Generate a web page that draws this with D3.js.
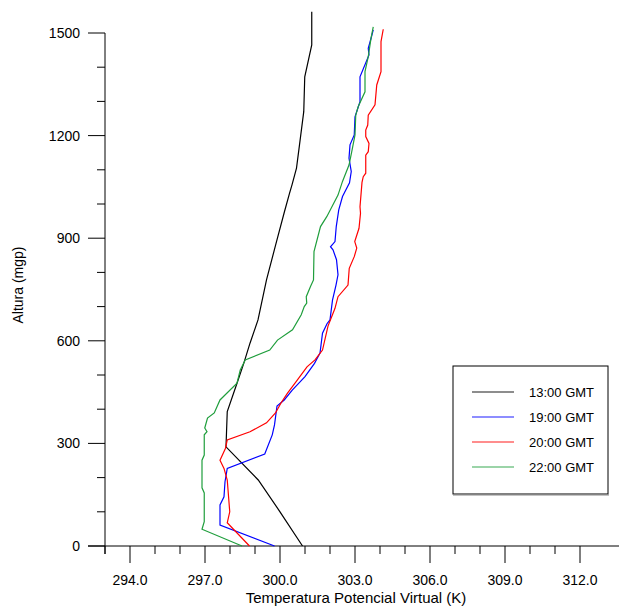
<!DOCTYPE html>
<html>
<head>
<meta charset="utf-8">
<script src="https://d3js.org/d3.v7.min.js"></script>
<style>
  body { margin: 0; background: #fff; }
  text { font-family: "Liberation Sans", Arial, sans-serif; }
</style>
</head>
<body>
<div id="chart"></div>
<script>
var width = 619;
var height = 606;

// [altura (mgp), temperatura potencial virtual (K)]
var s13 = [[0,300.9],[100,300.0],[193,299.13],[290,297.84],[393,297.89],[476,298.28],[534,298.55],
  [593,298.8],[661,299.12],[778,299.46],[890,299.86],[978,300.18],[1031,300.38],[1056,300.48],
  [1105,300.66],[1173,300.78],[1270,300.95],[1372,300.99],[1465,301.27],[1562,301.27]];

var s19 = [[0,299.78],[61,297.6],[120,297.6],[144,297.76],[188,297.8],[227,297.89],[269,299.39],
  [325,299.69],[354,299.78],[409,299.88],[427,300.17],[456,300.49],[495,301.0],[534,301.38],
  [564,301.6],[622,301.7],[650,301.88],[661,302.0],[719,302.1],[763,302.24],[793,302.32],
  [837,302.26],[866,302.12],[875,302.02],[890,302.2],[934,302.25],[983,302.35],[1022,302.5],
  [1062,302.78],[1095,302.85],[1134,302.76],[1173,302.8],[1202,302.97],[1255,303.0],[1299,303.2],
  [1372,303.2],[1436,303.56],[1455,303.53],[1484,303.64],[1509,303.73]];

var s20 = [[0,298.78],[68,297.89],[100,297.99],[193,297.89],[227,297.76],[251,297.6],[286,297.82],
  [310,297.89],[334,298.8],[360,299.46],[389,299.82],[418,300.04],[447,300.3],[485,300.69],
  [524,301.08],[544,301.4],[573,301.7],[643,301.92],[695,302.2],[729,302.32],[763,302.72],
  [812,302.77],[846,302.97],[871,303.07],[890,302.99],[929,303.16],[973,303.22],[992,303.2],
  [1063,303.28],[1080,303.33],[1090,303.43],[1143,303.43],[1153,303.53],[1177,303.56],[1197,303.43],
  [1216,303.43],[1231,303.51],[1260,303.53],[1290,303.8],[1348,303.87],[1387,304.04],[1475,304.04],
  [1511,304.13]];

var s22 = [[0,298.48],[49,296.88],[71,296.97],[155,296.97],[170,296.88],[251,296.88],[266,296.97],
  [325,296.97],[334,297.08],[345,296.99],[374,297.1],[389,297.37],[427,297.6],[476,298.28],
  [515,298.41],[544,298.61],[573,299.59],[602,299.9],[632,300.5],[676,300.85],[700,300.97],
  [710,301.07],[729,301.05],[759,301.22],[778,301.34],[861,301.36],[934,301.62],[963,301.87],
  [1026,302.32],[1066,302.5],[1114,302.76],[1153,302.87],[1202,303.0],[1260,303.03],[1285,303.13],
  [1328,303.4],[1387,303.4],[1431,303.53],[1484,303.64],[1518,303.73]];

var series = [
  {name: "13:00 GMT", color: "#000000", values: s13},
  {name: "19:00 GMT", color: "#0000ff", values: s19},
  {name: "20:00 GMT", color: "#ff0000", values: s20},
  {name: "22:00 GMT", color: "#1f9e3c", values: s22}
];

var xTicks = [294, 297, 300, 303, 306, 309, 312];
var yTicks = [0, 300, 600, 900, 1200, 1500];

var svg = d3.select("#chart").append("svg")
  .attr("width", width)
  .attr("height", height);

var x = d3.scaleLinear().domain([293, 313]).range([105, 605]);
var y = d3.scaleLinear().domain([0, 1500]).range([546, 33]);

// eixo x: menores a cada 1 K, maiores a cada 3 K
var xAxis = svg.append("g").attr("transform", "translate(0," + y(0) + ")");
xAxis.append("line")
  .attr("x1", 88).attr("x2", width)
  .attr("stroke", "#000").attr("stroke-width", 1);
xAxis.selectAll(".xt")
  .data(d3.range(293, 313))
  .enter().append("line")
    .attr("x1", function(d) { return x(d); })
    .attr("x2", function(d) { return x(d); })
    .attr("y1", 0)
    .attr("y2", function(d) { return xTicks.indexOf(d) >= 0 ? 17 : 8; })
    .attr("stroke", "#000");
xAxis.selectAll(".xl")
  .data(xTicks)
  .enter().append("text")
    .attr("x", function(d) { return x(d); })
    .attr("y", 39)
    .attr("text-anchor", "middle")
    .attr("font-size", 14)
    .text(function(d) { return d.toFixed(1); });
svg.append("text")
  .attr("x", 356).attr("y", 603)
  .attr("text-anchor", "middle")
  .attr("font-size", 15)
  .text("Temperatura Potencial Virtual (K)");

// eixo y
var yAxis = svg.append("g").attr("transform", "translate(" + x(293) + ",0)");
yAxis.append("line")
  .attr("y1", y(1500)).attr("y2", y(0) + 8)
  .attr("stroke", "#000");
yAxis.selectAll(".yt")
  .data(d3.range(0, 1501, 100))
  .enter().append("line")
    .attr("y1", function(d) { return y(d); })
    .attr("y2", function(d) { return y(d); })
    .attr("x1", function(d) { return d % 300 === 0 ? -17 : -8; })
    .attr("x2", 0)
    .attr("stroke", "#000");
yAxis.selectAll(".yl")
  .data(yTicks)
  .enter().append("text")
    .attr("x", -25)
    .attr("y", function(d) { return y(d) + 5; })
    .attr("text-anchor", "end")
    .attr("font-size", 14)
    .text(function(d) { return d; });
svg.append("text")
  .attr("transform", "translate(23,285) rotate(-90)")
  .attr("text-anchor", "middle")
  .attr("font-size", 14)
  .text("Altura (mgp)");

var line = d3.line()
  .x(function(d) { return x(d[1]); })
  .y(function(d) { return y(d[0]); });

svg.selectAll(".perfil")
  .data(series)
  .enter().append("path")
    .attr("class", "perfil")
    .attr("fill", "none")
    .attr("stroke", function(d) { return d.color; })
    .attr("stroke-width", 1.2)
    .attr("d", function(d) { return line(d.values); });

// legenda
var legend = svg.append("g");
legend.append("rect")
  .attr("x", 453).attr("y", 366)
  .attr("width", 155).attr("height", 128)
  .attr("fill", "#fff")
  .attr("stroke", "#000");
legend.append("line")
  .attr("x1", 453).attr("x2", 609).attr("y1", 495).attr("y2", 495)
  .attr("stroke", "#888");
var item = legend.selectAll(".item")
  .data(series)
  .enter().append("g")
    .attr("transform", function(d, i) { return "translate(0," + (392 + i * 25) + ")"; });
item.append("line")
  .attr("x1", 472).attr("x2", 514)
  .attr("stroke", function(d) { return d.color; })
  .attr("stroke-opacity", 0.6)
  .attr("stroke-width", 1.5);
item.append("text")
  .attr("x", 529).attr("y", 5)
  .attr("font-size", 13)
  .text(function(d) { return d.name; });
</script>
</body>
</html>
